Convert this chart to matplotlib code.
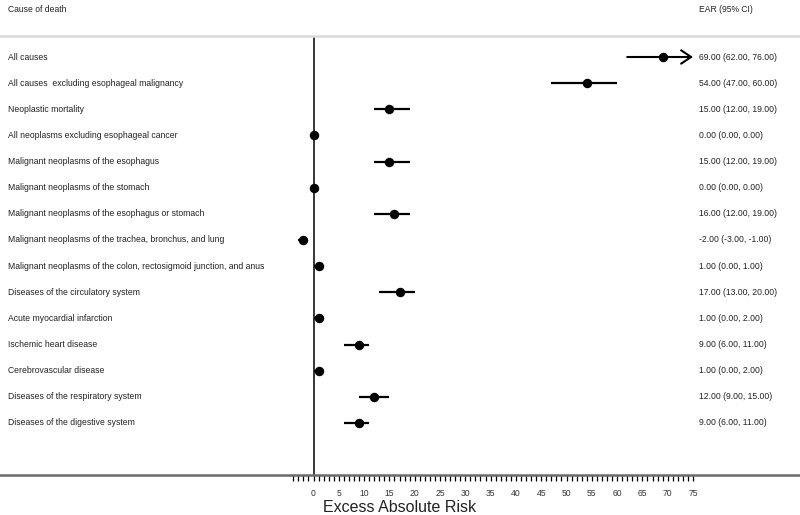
import matplotlib.pyplot as plt
import numpy as np

plt.rcParams["font.family"] = ["Liberation Sans", "DejaVu Sans"]

causes = [
    "All causes",
    "All causes  excluding esophageal malignancy",
    "Neoplastic mortality",
    "All neoplasms excluding esophageal cancer",
    "Malignant neoplasms of the esophagus",
    "Malignant neoplasms of the stomach",
    "Malignant neoplasms of the esophagus or stomach",
    "Malignant neoplasms of the trachea, bronchus, and lung",
    "Malignant neoplasms of the colon, rectosigmoid junction, and anus",
    "Diseases of the circulatory system",
    "Acute myocardial infarction",
    "Ischemic heart disease",
    "Cerebrovascular disease",
    "Diseases of the respiratory system",
    "Diseases of the digestive system",
]
ear = [69, 54, 15, 0, 15, 0, 16, -2, 1, 17, 1, 9, 1, 12, 9]
ci_low = [62, 47, 12, 0, 12, 0, 12, -3, 0, 13, 0, 6, 0, 9, 6]
ci_high = [76, 60, 19, 0, 19, 0, 19, -1, 1, 20, 2, 11, 2, 15, 11]

axis_min, axis_max = -4, 75
label_ticks = np.arange(0, 76, 5)
minor_ticks = np.arange(axis_min, axis_max + 1, 1)

W, H = 800, 515
fs = 6.2
fig = plt.figure(figsize=(W / 100, H / 100), dpi=100)

# axes spans full width; bottom = axis line, top = gray header rule
top_px, bot_px = 36, 475
ax = fig.add_axes([0, 1 - bot_px / H, 1, (bot_px - top_px) / H])

# x scale: 0 -> 313.5 px, 75 -> 693 px
px_per_unit = (693 - 313.5) / 75
ax.set_xlim(-313.5 / px_per_unit, (W - 313.5) / px_per_unit)

# rows: first at 57 px, spacing 26.14 px
row0, step = 57, 26.14
ax.set_ylim((bot_px - row0) / step, (top_px - row0) / step)

for side in ["left", "right"]:
    ax.spines[side].set_visible(False)
ax.spines["bottom"].set_color("#6b6b6b")
ax.spines["bottom"].set_linewidth(1.8)
ax.spines["top"].set_color("#dadada")
ax.spines["top"].set_linewidth(1.8)

ax.set_yticks([])
ax.set_xticks(label_ticks)
ax.set_xticks(minor_ticks, minor=True)
ax.tick_params(axis="x", which="both", direction="out", length=4.5, width=0.9,
               color="black", pad=5.5, labelsize=6.2, labelcolor="#333333")
ax.tick_params(axis="x", which="minor", labelbottom=False)

ax.axvline(0, color="black", lw=1.1, zorder=1)

y = np.arange(len(causes))
for i in range(len(causes)):
    if ci_high[i] > axis_max:
        ax.annotate("", xy=(axis_max, y[i]), xytext=(ci_low[i], y[i]),
                    arrowprops=dict(arrowstyle="->,head_length=0.6,head_width=0.4",
                                    lw=1.5, color="black", mutation_scale=12,
                                    shrinkA=0, shrinkB=0))
    else:
        ax.plot([ci_low[i], ci_high[i]], [y[i], y[i]], color="black", lw=1.6,
                solid_capstyle="butt", zorder=2)
ax.plot(ear, y, "o", color="black", markersize=5.8, zorder=3)

tr = ax.get_yaxis_transform()
for i, name in enumerate(causes):
    ax.text(8 / W, y[i], name, transform=tr, va="center", ha="left",
            fontsize=fs, color="#222222")
    ax.text(699 / W, y[i], f"{ear[i]:.2f} ({ci_low[i]:.2f}, {ci_high[i]:.2f})",
            transform=tr, va="center", ha="left", fontsize=fs, color="#222222")

fig.text(8 / W, 1 - 10 / H, "Cause of death", va="center", ha="left",
         fontsize=fs, color="#222222")
fig.text(699 / W, 1 - 10 / H, "EAR (95% CI)", va="center", ha="left",
         fontsize=fs, color="#222222")
fig.text(400 / W, 1 - 507 / H, "Excess Absolute Risk", va="center", ha="center",
         fontsize=11.5, color="#222222")

fig.savefig("out.png", dpi=100)
